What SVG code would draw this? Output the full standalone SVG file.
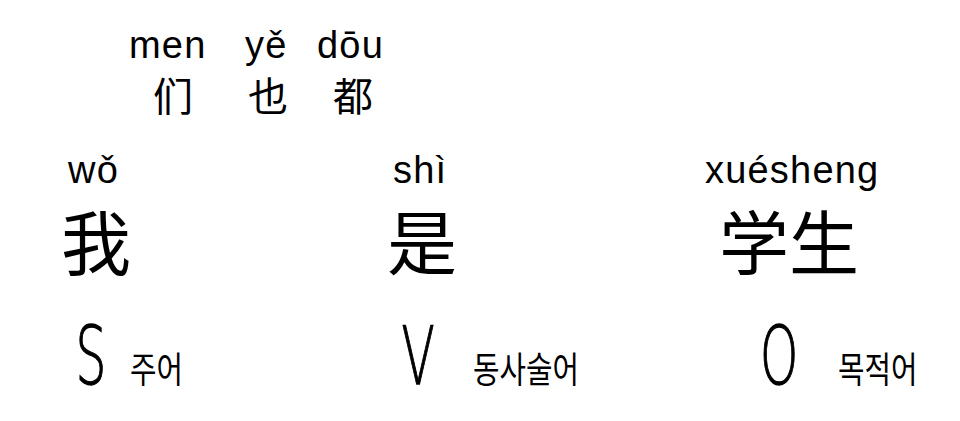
<svg xmlns="http://www.w3.org/2000/svg" width="960" height="421" viewBox="0 0 960 421">
  <style>
    .py { font-family: "Liberation Sans", Arial, sans-serif; font-size: 38px; letter-spacing: 1.2px; fill: #000; }
    .hz { font-family: "Noto Sans CJK SC", sans-serif; fill: #000; }
    .big { font-size: 70px; }
    .small { font-size: 40px; }
    .role { font-family: "DejaVu Sans", sans-serif; font-weight: 200; font-size: 81px; fill: #000; stroke: #000; stroke-width: 1.3px; text-anchor: middle; }
    .ko { font-family: "Noto Sans CJK KR", sans-serif; font-size: 32px; fill: #000; }
  </style>
  <rect width="960" height="421" fill="#fff"/>
  <g id="particles">
    <text class="py" x="129" y="58">men</text>
    <text class="py" x="245" y="58">yě</text>
    <text class="py" x="317" y="58">dōu</text>
    <text class="hz small" x="153" y="111">们</text>
    <text class="hz small" x="248" y="111">也</text>
    <text class="hz small" x="333" y="111">都</text>
  </g>
  <g id="subject">
    <text class="py" x="68" y="183">wǒ</text>
    <text class="hz big" x="61" y="270">我</text>
    <text class="role" transform="translate(91,384) scale(0.6,1)">S</text>
    <text class="ko" transform="translate(130,383) scale(0.9,1.12)">주어</text>
  </g>
  <g id="verb">
    <text class="py" x="393" y="183">shì</text>
    <text class="hz big" x="387" y="270">是</text>
    <text class="role" transform="translate(418,384) scale(0.6,1)">V</text>
    <text class="ko" transform="translate(473,383) scale(0.9,1.12)">동사술어</text>
  </g>
  <g id="object">
    <text class="py" x="705" y="183">xuésheng</text>
    <text class="hz big" x="719" y="270">学生</text>
    <text class="role" transform="translate(779,384) scale(0.6,1)">O</text>
    <text class="ko" transform="translate(838,383) scale(0.9,1.12)">목적어</text>
  </g>
  <g id="connectors"/>
</svg>
